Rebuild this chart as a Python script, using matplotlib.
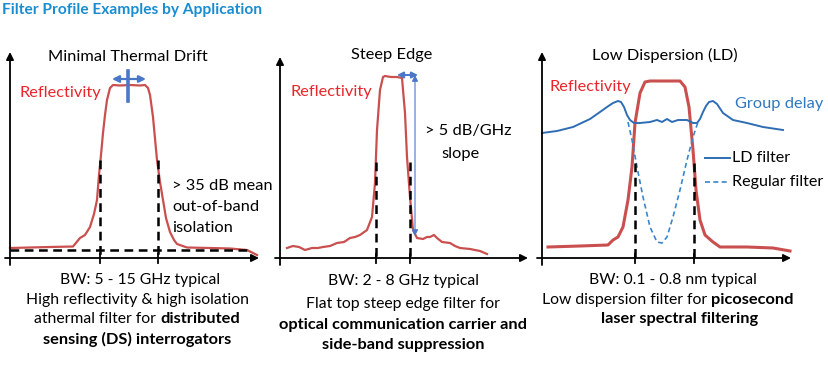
import matplotlib
matplotlib.use("Agg")
import matplotlib.pyplot as plt

# ---------------- data (pixel-space read-offs of the schematic curves) -------------
p1_refl_x = [10, 30, 50, 73, 80, 85, 90, 94, 97, 99, 101, 103, 105, 107, 110, 113, 120, 130,
             140, 145, 148, 150, 153, 157, 160, 163, 166, 170, 174, 177, 187, 210, 230, 247, 257]
p1_refl_y = [248, 247.5, 247, 246.5, 238, 235, 227, 214, 200, 175, 155, 133, 115, 100, 88, 85, 85.5,
             85, 85.5, 85, 88, 95, 117, 160, 182, 200, 218, 232, 240, 244, 247.5, 248, 248.5, 250, 255]

p2_refl_x = [287, 293, 299, 305, 312, 318, 323, 330, 337, 344, 350, 355, 360, 367, 372, 375, 377,
             380, 383, 385, 391, 397, 402, 405, 407, 410, 413, 417, 423, 427, 430, 434, 437, 442,
             450, 455, 460, 470, 480, 487]
p2_refl_y = [248, 246, 247, 250, 248, 248, 247, 246, 243, 242, 238, 237, 235, 230, 217, 183, 130,
             90, 77, 76, 77, 77, 78, 113, 157, 197, 230, 238, 239, 237, 237, 235, 238, 242,
             243, 246, 248, 249, 251, 254]

p3_refl_x = [548, 580, 608, 613, 618, 623, 628, 632, 635, 640, 645, 650, 665, 680, 685, 689, 693,
             696, 700, 705, 713, 720, 747, 773, 790]
p3_refl_y = [247, 246, 245, 240, 237, 227, 200, 167, 123, 93, 82, 81, 81, 81, 87, 107, 150,
             190, 220, 235, 242, 247, 247, 248, 251]

p3_gd_ld_x = [542, 557, 573, 590, 600, 607, 613, 618, 621, 624, 627, 630, 634, 640, 650, 657, 662,
              667, 672, 678, 687, 693, 697, 700, 703, 706, 709, 713, 717, 723, 733, 747, 763, 783]
p3_gd_ld_y = [133, 131, 127, 119, 112, 107, 103, 101, 102, 107, 115, 120, 123, 123, 122, 120, 122,
              119, 122, 120, 120, 123, 123, 119, 112, 106, 102, 101, 104, 113, 120, 123, 127, 130]

p3_gd_reg_x = [628, 632, 637, 643, 650, 657, 662, 667, 673, 680, 687, 693, 698]
p3_gd_reg_y = [122, 140, 167, 197, 227, 242, 243, 237, 217, 190, 160, 137, 122]

panel_titles = ["Minimal Thermal Drift", "Steep Edge", "Low Dispersion (LD)"]
captions = [
    [[("BW: 5 - 15 GHz typical", "normal")],
     [("High reflectivity & high isolation", "normal")],
     [("athermal filter for", "normal"), ("distributed", "bold")],
     [("sensing (DS) interrogators", "bold")]],
    [[("BW: 2 - 8 GHz typical", "normal")],
     [("Flat top steep edge filter for", "normal")],
     [("optical communication carrier and", "bold")],
     [("side-band suppression", "bold")]],
    [[("BW: 0.1 - 0.8 nm typical", "normal")],
     [("Low dispersion filter for", "normal"), ("picosecond", "bold")],
     [("laser spectral filtering", "bold")]],
]

# ---------------- styling ----------------
FONT = ["Lato", "DejaVu Sans"]
RED_LINE = "#c9504f"
RED_TXT = "#e8262c"
BLUE = "#2e6db4"
BLUE_ARROW = "#4a78c8"
TITLE_BLUE = "#1a8cd0"

W, H = 829, 366
fig = plt.figure(figsize=(W / 100, H / 100), dpi=100)
ax = fig.add_axes([0, 0, 1, 1])
ax.set_xlim(0, W)
ax.set_ylim(H, 0)
ax.axis("off")

fig.text(0.003, 1 - 10 / H, "Filter Profile Examples by Application", color=TITLE_BLUE,
         fontsize=11.2, fontweight="bold", family=FONT, va="center", ha="left")


def axis_arrows(x0, xend, ybase, ytop, ticks):
    ax.annotate("", xy=(x0, ytop), xytext=(x0, ybase + 7),
                arrowprops=dict(arrowstyle="-|>", lw=1.3, color="black", mutation_scale=11,
                                shrinkA=0, shrinkB=0))
    ax.annotate("", xy=(xend, ybase), xytext=(x0 - 5, ybase),
                arrowprops=dict(arrowstyle="-|>", lw=1.3, color="black", mutation_scale=11,
                                shrinkA=0, shrinkB=0))
    for t in ticks:
        ax.plot([t, t], [ybase - 4, ybase + 5], color="black", lw=1.3)


axis_arrows(10, 259, 258, 52, [100, 158])
axis_arrows(280, 528, 258, 57, [376, 410])
axis_arrows(542, 791, 258, 52, [635, 694])

# curves
ax.plot(p1_refl_x, p1_refl_y, color=RED_LINE, lw=1.6, solid_joinstyle="round")
ax.plot(p2_refl_x, p2_refl_y, color=RED_LINE, lw=1.6, solid_joinstyle="round")
ax.plot(p3_refl_x, p3_refl_y, color=RED_LINE, lw=2.2, solid_joinstyle="round")
ax.plot(p3_gd_ld_x, p3_gd_ld_y, color=BLUE, lw=1.4, solid_joinstyle="round")
ax.plot(p3_gd_reg_x, p3_gd_reg_y, color="#3a86cc", lw=1.2, ls=(0, (3, 2)))

# black dashed guides
dash = dict(color="black", lw=1.8, ls=(0, (3.5, 2.2)))
ax.plot([10, 247], [250, 250], **dash)
for x in [100, 158]:
    ax.plot([x, x], [160, 258], **dash)
for x in [376, 410]:
    ax.plot([x, x], [162, 258], **dash)
for x in [635, 694]:
    ax.plot([x, x], [163, 258], **dash)

# panel 1 blue double arrow
ax.annotate("", xy=(112, 79), xytext=(146, 79),
            arrowprops=dict(arrowstyle="<|-|>", lw=1.6, color=BLUE_ARROW, mutation_scale=10,
                            shrinkA=0, shrinkB=0))
ax.plot([128, 128], [71, 101], color=BLUE_ARROW, lw=2.6)

# panel 2 blue arrows
ax.annotate("", xy=(397, 75), xytext=(418, 75),
            arrowprops=dict(arrowstyle="<|-|>", lw=1.4, color=BLUE_ARROW, mutation_scale=9,
                            shrinkA=0, shrinkB=0))
ax.annotate("", xy=(415, 236), xytext=(415, 75),
            arrowprops=dict(arrowstyle="<|-|>", lw=0.8, color=BLUE_ARROW, mutation_scale=9,
                            shrinkA=0, shrinkB=0))

# legend in panel 3
ax.plot([705, 730], [158, 158], color=BLUE, lw=1.4)
ax.plot([705, 730], [182, 182], color="#3a86cc", lw=1.2, ls=(0, (3, 2)))
ax.text(732, 158, "LD filter", fontsize=11.6, family=FONT, va="center", ha="left")
ax.text(732, 182, "Regular filter", fontsize=11.6, family=FONT, va="center", ha="left")

# texts
tfs = 11.8
ax.text(128, 57, panel_titles[0], fontsize=tfs, family=FONT, ha="center", va="center")
ax.text(392, 55, panel_titles[1], fontsize=tfs, family=FONT, ha="center", va="center")
ax.text(665, 55, panel_titles[2], fontsize=tfs, family=FONT, ha="center", va="center")

ax.text(20, 93, "Reflectivity", color=RED_TXT, fontsize=tfs, family=FONT, ha="left", va="center")
ax.text(291, 92, "Reflectivity", color=RED_TXT, fontsize=tfs, family=FONT, ha="left", va="center")
ax.text(550, 87, "Reflectivity", color=RED_TXT, fontsize=tfs, family=FONT, ha="left", va="center")
ax.text(735, 104, "Group delay", color="#2e78c0", fontsize=tfs, family=FONT, ha="left", va="center")

ax.text(172, 186, "> 35 dB mean", fontsize=tfs, family=FONT, ha="left", va="center")
ax.text(172, 207, "out-of-band", fontsize=tfs, family=FONT, ha="left", va="center")
ax.text(172, 228, "isolation", fontsize=tfs, family=FONT, ha="left", va="center")
ax.text(425, 131, "> 5 dB/GHz", fontsize=tfs, family=FONT, ha="left", va="center")
ax.text(441, 154, "slope", fontsize=tfs, family=FONT, ha="left", va="center")

# captions (mixed weight lines, centred)
renderer = fig.canvas.get_renderer()
cfs = {"normal": 11.3, "bold": 11.8}
space = 0.26 * 11.3 * 100 / 72


def rich_line(xc, y, parts):
    objs = [ax.text(0, y, s, fontsize=cfs[w], fontweight=w, family=FONT, ha="left", va="center")
            for s, w in parts]
    widths = [o.get_window_extent(renderer).width for o in objs]
    total = sum(widths) + space * (len(parts) - 1)
    x = xc - total / 2
    for o, wd in zip(objs, widths):
        o.set_x(x)
        x += wd + space


cap_x = [[140, 138, 137, 137], [404, 403, 403, 403], [673, 668, 680]]
cap_y = [[280, 300, 319, 339], [281, 304, 325, 345], [280, 300, 319]]
for xs, ys, lines in zip(cap_x, cap_y, captions):
    for xc, y, parts in zip(xs, ys, lines):
        rich_line(xc, y, parts)

fig.savefig("out.png", dpi=100)
